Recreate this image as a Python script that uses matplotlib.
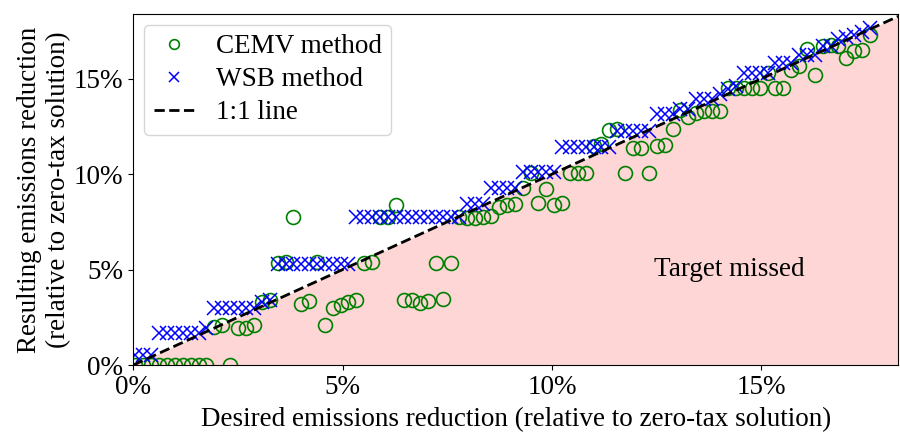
import matplotlib
matplotlib.use("Agg")
import matplotlib.pyplot as plt
from matplotlib.ticker import FuncFormatter

plt.rcParams['font.family'] = ['Liberation Serif', 'DejaVu Serif']
plt.rcParams['font.size'] = 19.5

# desired reduction targets (% relative to zero-tax solution)
desired = [0.05, 0.24, 0.43, 0.62, 0.80, 0.99, 1.18, 1.37, 1.56, 1.75,
           1.94, 2.13, 2.31, 2.50, 2.69, 2.88, 3.07, 3.26, 3.45, 3.64,
           3.82, 4.01, 4.20, 4.39, 4.58, 4.77, 4.96, 5.14, 5.33, 5.52,
           5.71, 5.90, 6.09, 6.28, 6.47, 6.65, 6.84, 7.03, 7.22, 7.41,
           7.60, 7.79, 7.98, 8.16, 8.35, 8.54, 8.73, 8.92, 9.11, 9.30,
           9.49, 9.67, 9.86, 10.05, 10.24, 10.43, 10.62, 10.81, 11.00, 11.18,
           11.37, 11.56, 11.75, 11.94, 12.13, 12.32, 12.50, 12.69, 12.88, 13.07,
           13.26, 13.45, 13.64, 13.83, 14.01, 14.20, 14.39, 14.58, 14.77, 14.96,
           15.15, 15.33, 15.52, 15.71, 15.90, 16.09, 16.28, 16.47, 16.66, 16.84,
           17.03, 17.22, 17.41, 17.60]

# resulting reduction, CEMV method
cemv = [0, 0, 0, 0, 0, 0, 0, 0, 0, 0,
        2.0, 2.1, 0, 1.95, 1.95, 2.1, 3.3, 3.4, 5.33, 5.4,
        7.75, 3.2, 3.35, 5.4, 2.1, 2.97, 3.15, 3.32, 3.41, 5.33,
        5.42, 7.78, 7.78, 8.39, 3.41, 3.41, 3.23, 3.35, 5.33, 3.46,
        5.33, 7.78, 7.7, 7.7, 7.78, 7.8, 8.3, 8.39, 8.44, 9.26,
        10.05, 8.48, 9.21, 8.39, 8.48, 10.05, 10.05, 10.08, 11.5, 11.6,
        12.3, 12.35, 10.05, 11.36, 11.36, 10.05, 11.45, 11.53, 12.36, 13.35,
        13.0, 13.2, 13.3, 13.3, 13.3, 14.5, 14.5, 14.5, 14.5, 14.5,
        15.3, 14.5, 14.5, 15.47, 15.66, 16.55, 15.2, 16.7, 16.78, 16.7,
        16.08, 16.43, 16.52, 17.3]

# resulting reduction, WSB method
wsb = [0.55, 0.55, 0.55, 1.69, 1.69, 1.69, 1.69, 1.69, 1.69, 1.92,
       2.97, 2.97, 2.97, 2.97, 2.97, 2.97, 3.3, 3.4, 5.3, 5.3,
       5.3, 5.3, 5.3, 5.3, 5.3, 5.3, 5.3, 5.3, 7.78, 7.78,
       7.78, 7.78, 7.78, 7.78, 7.78, 7.78, 7.78, 7.78, 7.78, 7.78,
       7.78, 7.78, 8.45, 8.45, 8.45, 9.25, 9.25, 9.25, 9.25, 10.1,
       10.1, 10.1, 10.1, 10.1, 11.4, 11.4, 11.4, 11.4, 11.4, 11.4,
       11.4, 12.28, 12.28, 12.28, 12.28, 12.28, 13.15, 13.15, 13.15, 13.4,
       13.4, 13.95, 13.95, 13.95, 14.2, 14.45, 14.6, 15.3, 15.3, 15.3,
       15.3, 15.8, 15.8, 15.8, 16.26, 16.26, 16.26, 16.7, 16.7, 17.1,
       17.2, 17.3, 17.45, 17.65]

x_max = 18.27
y_max = 18.4

fig = plt.figure(figsize=(9, 4.33), dpi=100)
ax = fig.add_axes([0.148, 0.157, 0.85, 0.811])

# shade region where the result falls short of the target
ax.fill_between([0, x_max], [0, 0], [0, x_max], color='#ffd6d6', lw=0)
ax.text(14.23, 4.98, 'Target missed', ha='center', va='center')

ax.plot(desired, cemv, 'o', mfc='none', mec='green', ms=10, mew=1.2, label='CEMV method')
ax.plot(desired, wsb, 'x', color='blue', ms=9.5, mew=1.1, label='WSB method')
ax.plot([0, x_max], [0, x_max], 'k--', lw=2, label='1:1 line')

ax.set_xlim(0, x_max)
ax.set_ylim(0, y_max)
ax.set_xticks([0, 5, 10, 15])
ax.set_yticks([0, 5, 10, 15])
pct = FuncFormatter(lambda v, pos: '%d%%' % v)
ax.xaxis.set_major_formatter(pct)
ax.yaxis.set_major_formatter(pct)

ax.set_xlabel('Desired emissions reduction (relative to zero-tax solution)', labelpad=5)
ax.set_ylabel('Resulting emissions reduction\n(relative to zero-tax solution)', labelpad=2)

ax.legend(loc='upper left', markerscale=0.7, handlelength=1.5,
          borderpad=0.35, labelspacing=0.3, handletextpad=0.8, borderaxespad=0.4)

fig.savefig('out.png', dpi=100)
